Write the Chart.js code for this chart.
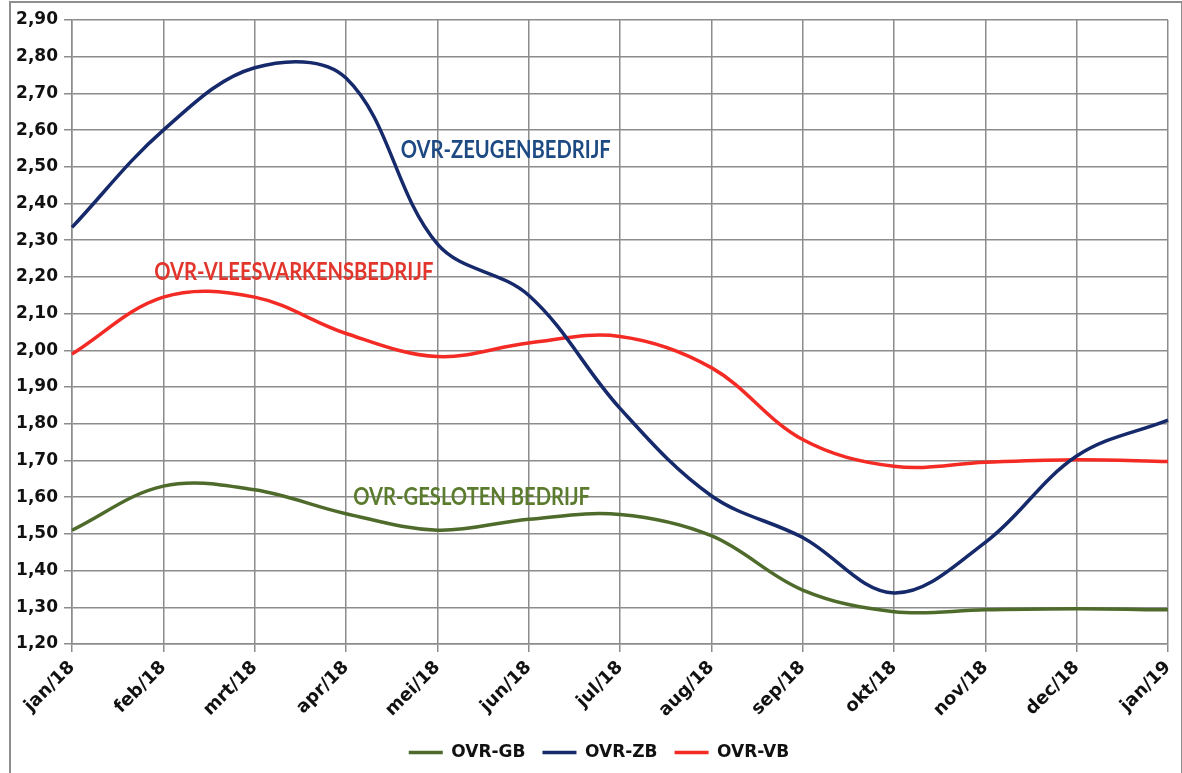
<!DOCTYPE html>
<html>
<head>
<meta charset="utf-8">
<script src="https://cdn.jsdelivr.net/npm/chart.js@4.4.1/dist/chart.umd.min.js"></script>
<style>
  html, body { margin:0; padding:0; background:#fff; overflow:hidden; }
  #wrap { position:relative; width:1182px; height:773px; }
  #frame { position:absolute; left:9px; top:1px; width:1170px; height:900px; border:2px solid #8e8e8e; }
  canvas { position:absolute; left:0; top:0; }
</style>
</head>
<body>
<div id="wrap">
  <div id="frame"></div>
  <canvas id="c" width="1182" height="773"></canvas>
</div>
<script>
// ── Data ──────────────────────────────────────────────────────────────────────
const months = ['jan/18','feb/18','mrt/18','apr/18','mei/18','jun/18','jul/18','aug/18','sep/18','okt/18','nov/18','dec/18','jan/19'];
const ovrGB = [1.51, 1.63, 1.62, 1.555, 1.51, 1.54, 1.553, 1.495, 1.347, 1.288, 1.293, 1.296, 1.293];
const ovrZB = [2.335, 2.60, 2.77, 2.742, 2.29, 2.15, 1.842, 1.604, 1.49, 1.339, 1.477, 1.712, 1.81];
const ovrVB = [1.99, 2.145, 2.145, 2.046, 1.983, 2.02, 2.038, 1.953, 1.757, 1.684, 1.695, 1.702, 1.697];
const yMin = 1.20, yMax = 2.90, yStep = 0.10;

const TICK_FONT = '"DejaVu Sans", sans-serif';
const LABEL_FONT = 'Lato, "Open Sans", sans-serif';
const GRID = '#8c8c8c';

// series name labels written inside the plot
const seriesLabels = [
  { text:'OVR-ZEUGENBEDRIJF',       color:'#1d4a82', x:3.60, y:2.545 },
  { text:'OVR-VLEESVARKENSBEDRIJF', color:'#e2362d', x:0.90, y:2.212 },
  { text:'OVR-GESLOTEN BEDRIJF',    color:'#5b7b2e', x:3.08, y:1.600 },
];

const labelPlugin = {
  id: 'seriesLabels',
  afterLayout(chart) {
    // legend in the original sits a little right of centre
    if (chart.legend) { chart.legend.left += 15; chart.legend.right += 15; }
  },
  afterDatasetsDraw(chart) {
    const { ctx, scales: { x, y } } = chart;
    ctx.save();
    ctx.font = 'bold 24px ' + LABEL_FONT;
    ctx.textAlign = 'left';
    ctx.textBaseline = 'middle';
    seriesLabels.forEach(l => {
      const px = x.getPixelForValue(l.x), py = y.getPixelForValue(l.y);
      ctx.save();
      ctx.translate(px, py);
      ctx.scale(0.84, 1);   // condensed look of the original text boxes
      ctx.fillStyle = l.color;
      ctx.fillText(l.text, 0, 0);
      ctx.restore();
    });
    ctx.restore();
  }
};

const line = (label, data, color) => ({
  label, data,
  borderColor: color,
  backgroundColor: color,
  borderWidth: 3.5,
  pointRadius: 0,
  tension: 0.36,
  fill: false
});

new Chart(document.getElementById('c'), {
  type: 'line',
  data: {
    labels: months,
    datasets: [
      line('OVR-GB', ovrGB, '#4f6b2c'),
      line('OVR-ZB', ovrZB, '#15296b'),
      line('OVR-VB', ovrVB, '#f42a25'),
    ]
  },
  options: {
    responsive: false,
    animation: false,
    layout: { padding: { top: 20, right: 14, left: 0, bottom: 2 } },
    plugins: {
      tooltip: { enabled: false },
      legend: {
        position: 'bottom',
        labels: {
          usePointStyle: true,
          pointStyle: 'line',
          pointStyleWidth: 34,
          padding: 17,
          color: '#111',
          font: { family: TICK_FONT, size: 17, weight: 'bold' }
        }
      }
    },
    scales: {
      x: {
        grid: { color: GRID, lineWidth: 1.5, tickLength: 8 },
        border: { color: GRID, width: 1.5 },
        ticks: {
          color: '#111', maxRotation: 45, minRotation: 45, padding: 5,
          font: { family: TICK_FONT, size: 18, weight: 'bold' }
        },
        afterFit(s) { s.height = 83; s.paddingRight = 0; s.paddingLeft = 0; }
      },
      y: {
        min: yMin, max: yMax,
        grid: { color: GRID, lineWidth: 1.5, tickLength: 8 },
        border: { color: GRID, width: 1.5 },
        ticks: {
          stepSize: yStep, color: '#111', padding: 6,
          font: { family: TICK_FONT, size: 17, weight: 'bold' },
          callback: v => v.toFixed(2).replace('.', ',')
        },
        afterFit(s) { s.width = 72; }
      }
    }
  },
  plugins: [labelPlugin]
});
</script>
</body>
</html>
